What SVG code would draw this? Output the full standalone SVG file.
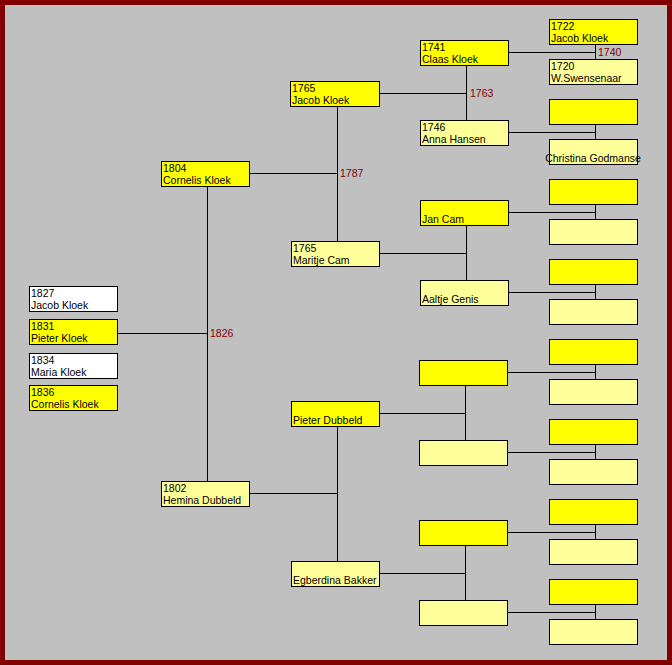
<svg xmlns="http://www.w3.org/2000/svg" width="672" height="665" viewBox="0 0 672 665">
<style>
rect.b{stroke:#000;stroke-width:1}
.f{fill:#FFFF00}
.m{fill:#FFFF99}
.w{fill:#FFFFFF}
text{font-family:"Liberation Sans",Arial,sans-serif;font-size:10.5px;fill:#000}
text.l{fill:#800000}
.c{fill:none;stroke:#000;stroke-width:1}
</style>
<rect x="0" y="0" width="672" height="665" fill="#800000"/>
<rect x="5" y="5" width="662" height="655" fill="#C0C0C0"/>
<g id="connectors">
<path class="c" d="M508 52.5H595.5M508 132.5H595.5M508 212.5H595.5M508 292.5H595.5M507 372.5H595.5M507 452.5H595.5M507 532.5H595.5M507 612.5H595.5"/>
<path class="c" d="M595.5 44V59M595.5 124V139M595.5 204V219M595.5 284V299M595.5 364V379M595.5 444V459M595.5 524V539M595.5 604V619"/>
<path class="c" d="M466.5 65V120M466.5 225V280M465.5 385V440M465.5 545V600"/>
<path class="c" d="M379 93.5H466.5M379 253.5H466.5M379 413.5H465.5M379 573.5H465.5"/>
<path class="c" d="M337.5 106V241M337.5 426V561"/>
<path class="c" d="M249 173.5H337.5M249 493.5H337.5"/>
<path class="c" d="M207.5 186V481"/>
<path class="c" d="M117 333.5H207.5"/>
<text class="l" x="598" y="56">1740</text>
<text class="l" x="470" y="97">1763</text>
<text class="l" x="340" y="177">1787</text>
<text class="l" x="210" y="337">1826</text>
</g>
<g id="n1827"><rect class="b w" x="29.5" y="286.5" width="88" height="25"/><text x="31" y="297">1827</text><text x="31" y="308.5">Jacob Kloek</text></g>
<g id="n1831"><rect class="b f" x="29.5" y="319.5" width="88" height="25"/><text x="31" y="330">1831</text><text x="31" y="341.5">Pieter Kloek</text></g>
<g id="n1834"><rect class="b w" x="29.5" y="353.5" width="88" height="25"/><text x="31" y="364">1834</text><text x="31" y="375.5">Maria Kloek</text></g>
<g id="n1836"><rect class="b f" x="29.5" y="385.5" width="88" height="25"/><text x="31" y="396">1836</text><text x="31" y="407.5">Cornelis Kloek</text></g>
<g id="n1804"><rect class="b f" x="161.5" y="161.5" width="88" height="25"/><text x="163" y="172">1804</text><text x="163" y="183.5">Cornelis Kloek</text></g>
<g id="n1802"><rect class="b m" x="161.5" y="481.5" width="88" height="25"/><text x="163" y="492">1802</text><text x="163" y="503.5">Hemina Dubbeld</text></g>
<g id="n1765a"><rect class="b f" x="290.5" y="81.5" width="89" height="25"/><text x="292" y="92">1765</text><text x="292" y="103.5">Jacob Kloek</text></g>
<g id="n1765b"><rect class="b m" x="291.5" y="241.5" width="88" height="25"/><text x="293" y="252">1765</text><text x="293" y="263.5">Maritje Cam</text></g>
<g id="npd"><rect class="b f" x="291.5" y="401.5" width="88" height="25"/><text x="293" y="423.5">Pieter Dubbeld</text></g>
<g id="neb"><rect class="b m" x="291.5" y="561.5" width="88" height="25"/><text x="293" y="583.5">Egberdina Bakker</text></g>
<g id="n1741"><rect class="b f" x="420.5" y="40.5" width="88" height="25"/><text x="422" y="51">1741</text><text x="422" y="62.5">Claas Kloek</text></g>
<g id="n1746"><rect class="b m" x="420.5" y="120.5" width="88" height="25"/><text x="422" y="131">1746</text><text x="422" y="142.5">Anna Hansen</text></g>
<g id="njc"><rect class="b f" x="420.5" y="200.5" width="88" height="25"/><text x="422" y="222.5">Jan Cam</text></g>
<g id="nag"><rect class="b m" x="420.5" y="280.5" width="88" height="25"/><text x="422" y="302.5">Aaltje Genis</text></g>
<g id="g4a"><rect class="b f" x="419.5" y="360.5" width="88" height="25"/></g>
<g id="g4b"><rect class="b m" x="419.5" y="440.5" width="88" height="25"/></g>
<g id="g4c"><rect class="b f" x="419.5" y="520.5" width="88" height="25"/></g>
<g id="g4d"><rect class="b m" x="419.5" y="600.5" width="88" height="25"/></g>
<g id="n1722"><rect class="b f" x="549.5" y="19.5" width="88" height="25"/><text x="551" y="30">1722</text><text x="551" y="41.5">Jacob Kloek</text></g>
<g id="n1720"><rect class="b m" x="549.5" y="59.5" width="88" height="25"/><text x="551" y="70">1720</text><text x="551" y="81.5">W.Swensenaar</text></g>
<g id="g5a"><rect class="b f" x="549.5" y="99.5" width="88" height="25"/></g>
<g id="ncg"><rect class="b m" x="549.5" y="139.5" width="88" height="25"/><text x="593" y="161.5" text-anchor="middle">Christina Godmanse</text></g>
<g id="g5c"><rect class="b f" x="549.5" y="179.5" width="88" height="25"/></g>
<g id="g5d"><rect class="b m" x="549.5" y="219.5" width="88" height="25"/></g>
<g id="g5e"><rect class="b f" x="549.5" y="259.5" width="88" height="25"/></g>
<g id="g5f"><rect class="b m" x="549.5" y="299.5" width="88" height="25"/></g>
<g id="g5g"><rect class="b f" x="549.5" y="339.5" width="88" height="25"/></g>
<g id="g5h"><rect class="b m" x="549.5" y="379.5" width="88" height="25"/></g>
<g id="g5i"><rect class="b f" x="549.5" y="419.5" width="88" height="25"/></g>
<g id="g5j"><rect class="b m" x="549.5" y="459.5" width="88" height="25"/></g>
<g id="g5k"><rect class="b f" x="549.5" y="499.5" width="88" height="25"/></g>
<g id="g5l"><rect class="b m" x="549.5" y="539.5" width="88" height="25"/></g>
<g id="g5m"><rect class="b f" x="549.5" y="579.5" width="88" height="25"/></g>
<g id="g5n"><rect class="b m" x="549.5" y="619.5" width="88" height="25"/></g>
</svg>
